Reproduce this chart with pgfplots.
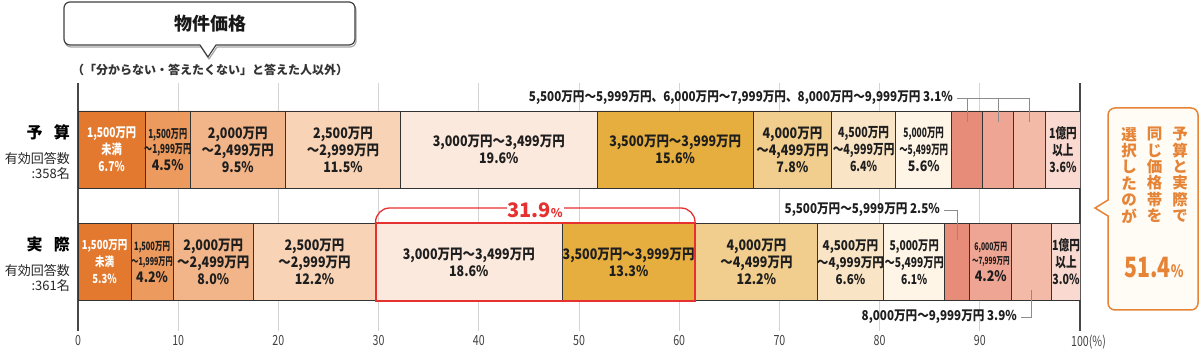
\documentclass[border=0pt]{standalone}
\usepackage{fontspec}
\usepackage{pgfplots}
\pgfplotsset{compat=1.18}
\setmainfont{Noto Sans CJK JP}
\newfontfamily\fA{Noto Sans CJK JP}[FakeStretch=0.86]
\newfontfamily\fB{Noto Sans CJK JP}[FakeStretch=0.76]
\newfontfamily\fC{Noto Sans CJK JP}[FakeStretch=0.65]
\definecolor{c1}{HTML}{E2792F}
\definecolor{c2}{HTML}{EC9A5E}
\definecolor{c3}{HTML}{F2B589}
\definecolor{c4}{HTML}{F8D3B6}
\definecolor{c5}{HTML}{FCE9DD}
\definecolor{c6}{HTML}{E5AE3F}
\definecolor{c7}{HTML}{F1CE8D}
\definecolor{c8}{HTML}{F9E5C6}
\definecolor{c9}{HTML}{FEF5E7}
\definecolor{c10}{HTML}{E88C7A}
\definecolor{c11}{HTML}{EFA593}
\definecolor{c12}{HTML}{F4BAA8}
\definecolor{c13}{HTML}{FADAD0}
\definecolor{ored}{HTML}{E5312F}
\definecolor{oor}{HTML}{E58436}
\definecolor{cream}{HTML}{FFFBF5}
\definecolor{txt}{HTML}{1E1E1E}
\newcommand\sz[1]{\fontsize{#1}{17}\selectfont}
\tikzset{lab/.style={align=center, font=\fA\bfseries\sz{14.5}, text=txt, inner sep=0pt}}
\begin{document}
\begin{tikzpicture}
\path[use as bounding box] (0,0) rectangle (1200pt,351pt);
\begin{axis}[at={(78pt,20pt)}, anchor=south west, scale only axis,
  width=1002pt, height=248pt,
  xmin=0, xmax=100, ymin=-331, ymax=-83,
  xbar stacked, bar width=77pt,
  axis line style={draw=none}, major tick length=0pt, ytick=\empty,
  xtick={10,20,...,90},
  xmajorgrids, grid style={black!17, line width=0.9pt},
  extra x ticks={0,100}, extra x tick labels={0,100\rlap{(\%)}},
  extra x tick style={grid style={black!72, line width=1.6pt}},
  /pgf/number format/assume math mode=true,
  xticklabel style={font=\fB\fontsize{14}{14}\selectfont, text=black!75, yshift=-1pt},
  every axis plot/.append style={draw=black!80, line width=0.8pt},
]
\addplot[fill=c1]  coordinates {(6.7,-149.5)  (5.3,-262)};
\addplot[fill=c2]  coordinates {(4.5,-149.5)  (4.2,-262)};
\addplot[fill=c3]  coordinates {(9.5,-149.5)  (8.0,-262)};
\addplot[fill=c4]  coordinates {(11.5,-149.5) (12.2,-262)};
\addplot[fill=c5]  coordinates {(19.6,-149.5) (18.6,-262)};
\addplot[fill=c6]  coordinates {(15.6,-149.5) (13.3,-262)};
\addplot[fill=c7]  coordinates {(7.8,-149.5)  (12.2,-262)};
\addplot[fill=c8]  coordinates {(6.4,-149.5)  (6.6,-262)};
\addplot[fill=c9]  coordinates {(5.6,-149.5)  (6.1,-262)};
\addplot[fill=c10] coordinates {(3.1,-149.5)  (2.5,-262)};
\addplot[fill=c11] coordinates {(3.1,-149.5)  (4.2,-262)};
\addplot[fill=c12] coordinates {(3.1,-149.5)  (3.9,-262)};
\addplot[fill=c13] coordinates {(3.6,-149.5)  (3.0,-262)};
\end{axis}
\begin{scope}[x=1pt, y=-1pt, shift={(0pt,351pt)}]
% top row labels (x = 78 + 10.02 * segment centre)
\node[lab, text=white, font=\fB\bfseries\sz{13.5}] at (111.6,149.5) {1,500万円\\未満\\6.7\%};
\node[lab] at (167.7,149.5) {{\fC\bfseries\fontsize{12.5}{14}\selectfont 1,500万円}\\[-2pt]{\fC\bfseries\fontsize{12.5}{14}\selectfont ～1,999万円}\\4.5\%};
\node[lab] at (237.8,149.5) {2,000万円\\～2,499万円\\9.5\%};
\node[lab] at (343.0,149.5) {2,500万円\\～2,999万円\\11.5\%};
\node[lab] at (498.8,149.5) {3,000万円～3,499万円\\19.6\%};
\node[lab] at (675.2,149.5) {3,500万円～3,999万円\\15.6\%};
\node[lab] at (792.4,149.5) {4,000万円\\～4,499万円\\7.8\%};
\node[lab, font=\fB\bfseries\sz{14}] at (863.6,149.5) {4,500万円\\～4,999万円\\6.4\%};
\node[lab] at (923.7,149.5) {{\fC\bfseries\fontsize{13}{14}\selectfont 5,000万円}\\{\fC\bfseries\fontsize{13}{14}\selectfont ～5,499万円}\\5.6\%};
\node[lab, font=\fB\bfseries\sz{14}] at (1062.9,149.5) {1億円\\以上\\3.6\%};
% bottom row labels
\node[lab, text=white, font=\fB\bfseries\sz{12.5}] at (104.6,262) {1,500万円\\未満\\5.3\%};
\node[lab] at (152.1,262) {{\fC\bfseries\fontsize{11.5}{14}\selectfont 1,500万円}\\[-2pt]{\fC\bfseries\fontsize{11}{14}\selectfont ～1,999万円}\\4.2\%};
\node[lab] at (213.3,262) {2,000万円\\～2,499万円\\8.0\%};
\node[lab] at (314.5,262) {2,500万円\\～2,999万円\\12.2\%};
\node[lab] at (468.8,262) {3,000万円～3,499万円\\18.6\%};
\node[lab] at (628.6,262) {3,500万円～3,999万円\\13.3\%};
\node[lab] at (756.4,262) {4,000万円\\～4,499万円\\12.2\%};
\node[lab, font=\fA\bfseries\sz{13.5}] at (850.5,262) {4,500万円\\～4,999万円\\6.6\%};
\node[lab, font=\fB\bfseries\sz{13.5}] at (914.2,262) {5,000万円\\～5,499万円\\6.1\%};
\node[lab] at (990.8,262) {{\fC\bfseries\fontsize{10.5}{13}\selectfont 6,000万円}\\[-3pt]{\fC\bfseries\fontsize{10}{13}\selectfont ～7,999万円}\\4.2\%};
\node[lab, font=\fB\bfseries\sz{14}] at (1066.0,262) {1億円\\以上\\3.0\%};
% title box
\draw[black!35, line width=1.2pt, line join=round]
  (201,47) [rounded corners=6pt]-- (65,47) -- (65,4) -- (356,4) -- (356,47) [sharp corners]-- (217,47) -- (209,59) -- cycle;
\draw[black!75, line width=1.2pt, fill=white, line join=round]
  (200,45) [rounded corners=6pt]-- (64,45) -- (64,2) -- (355,2) -- (355,45) [sharp corners]-- (216,45) -- (208,57) -- cycle;
\node[font=\bfseries\fontsize{18}{18}\selectfont, text=black!90] at (210,24) {物件価格};
\node[font=\bfseries\fontsize{12}{12}\selectfont, text=black!80] at (210,70) {（「分からない・答えたくない」と答えた人以外）};
% row headers
\node[anchor=east, font=\bfseries\fontsize{16}{16}\selectfont, inner sep=0pt] at (70,132) {予\hspace{0.7em}算};
\node[anchor=east, font=\fontsize{13}{13}\selectfont, text=black!85, inner sep=0pt] at (70,158) {有効回答数};
\node[anchor=east, font=\fontsize{13}{13}\selectfont, text=black!85, inner sep=0pt] at (70,174) {:358名};
\node[anchor=east, font=\bfseries\fontsize{16}{16}\selectfont, inner sep=0pt] at (70,244) {実\hspace{0.7em}際};
\node[anchor=east, font=\fontsize{13}{13}\selectfont, text=black!85, inner sep=0pt] at (70,270) {有効回答数};
\node[anchor=east, font=\fontsize{13}{13}\selectfont, text=black!85, inner sep=0pt] at (70,286) {:361名};
% annotations
\node[anchor=east, font=\fA\bfseries\fontsize{13.5}{14}\selectfont, text=txt, inner sep=1pt] at (954,98) {5,500万円～5,999万円、6,000万円～7,999万円、8,000万円～9,999万円\ 3.1\%};
\draw[black!45, line width=0.8pt] (957,98) -- (1029,98) -- (1029,122) (967,98) -- (967,122) (998,98) -- (998,122);
\node[anchor=east, font=\fA\bfseries\fontsize{13.5}{14}\selectfont, text=txt, inner sep=1pt] at (941,210) {5,500万円～5,999万円\ 2.5\%};
\draw[black!45, line width=0.8pt] (944,210) -- (957,210) -- (957,240);
\node[anchor=east, font=\fA\bfseries\fontsize{13.5}{14}\selectfont, text=txt, inner sep=1pt] at (1018,317) {8,000万円～9,999万円\ 3.9\%};
\draw[black!45, line width=0.8pt] (1021,317) -- (1031,317) -- (1031,290);
% red box and bracket
\draw[ored, line width=2pt] (375.6,223) rectangle (695,301);
\draw[ored, line width=1.3pt, rounded corners=14pt] (375.6,223) -- (375.6,208) -- (507,208);
\draw[ored, line width=1.3pt, rounded corners=14pt] (564,208) -- (695,208) -- (695,223);
\node[text=ored, font=\bfseries, inner sep=0pt] at (535,210) {{\fontsize{20}{20}\selectfont 31.9}{\fontsize{12}{12}\selectfont\%}};
% right callout
\draw[oor, line width=1.5pt, fill=cream, line join=miter]
  (1108,200) [rounded corners=7pt]-- (1108,108) -- (1198,108) -- (1198,310) -- (1108,310) [sharp corners]-- (1108,216) -- (1095,208) -- cycle;
\node[anchor=north, align=center, text=oor, font=\bfseries\fontsize{15.5}{16.4}\selectfont, inner sep=0pt] at (1180,127) {予\\算\\と\\実\\際\\で};
\node[anchor=north, align=center, text=oor, font=\bfseries\fontsize{15.5}{16.4}\selectfont, inner sep=0pt] at (1154.5,127) {同\\じ\\価\\格\\帯\\を};
\node[anchor=north, align=center, text=oor, font=\bfseries\fontsize{15.5}{16.4}\selectfont, inner sep=0pt] at (1129,127) {選\\択\\し\\た\\の\\が};
\node[text=oor, inner sep=0pt] at (1154,268) {{\fB\bfseries\fontsize{28}{28}\selectfont 51.4}{\fB\bfseries\fontsize{17}{17}\selectfont\%}};
\end{scope}
\end{tikzpicture}
\end{document}
